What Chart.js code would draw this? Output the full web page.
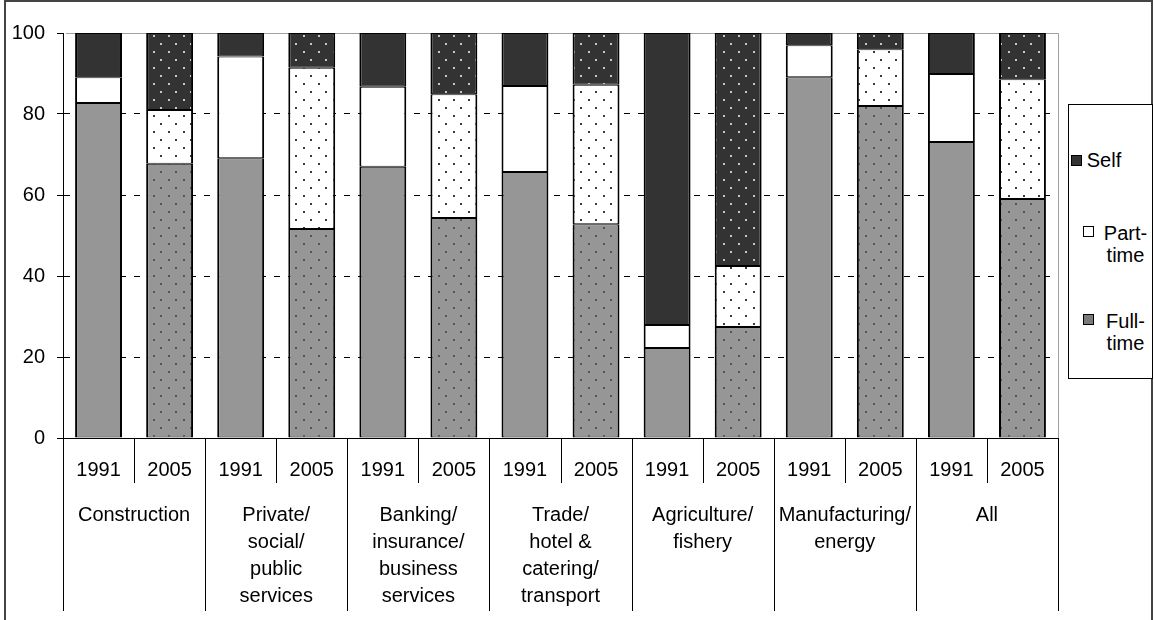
<!DOCTYPE html>
<html>
<head>
<meta charset="utf-8">
<title>Employment by sector</title>
<script src="https://cdn.jsdelivr.net/npm/chart.js@4.4.1/dist/chart.umd.min.js"></script>
<style>
  body { margin: 0; background: #fff; font-family: "Liberation Sans", Arial, sans-serif; }
  .frame { position: absolute; left: 4px; top: 0; width: 1149px; height: 640px; border: 2px solid #444; box-sizing: border-box; }
  #chart { position: absolute; left: 0; top: 0; }
  .legend { position: absolute; left: 1068px; top: 104px; width: 85px; height: 275px; border: 1px solid #000; box-sizing: border-box; background: #fff; }
  .item { position: absolute; font-size: 20px; line-height: 22px; color: #000; }
</style>
</head>
<body>
<div class="frame"></div>
<canvas id="chart" width="1154" height="620"></canvas>
<div class="legend js-legend"></div>
<script>
'use strict';
const years = ['1991', '2005', '1991', '2005', '1991', '2005', '1991', '2005', '1991', '2005', '1991', '2005', '1991', '2005'];
const sectors = [
    ['Construction'],
    ['Private/', 'social/', 'public', 'services'],
    ['Banking/', 'insurance/', 'business', 'services'],
    ['Trade/', 'hotel &', 'catering/', 'transport'],
    ['Agriculture/', 'fishery'],
    ['Manufacturing/', 'energy'],
    ['All']
];
const fullTime = [82.7, 67.7, 69.1, 51.6, 67.0, 54.3, 65.7, 52.8, 22.2, 27.4, 89.1, 82.0, 73.1, 59.0];
const partTime = [6.4, 13.3, 25.1, 39.8, 19.7, 30.6, 21.2, 34.4, 5.7, 15.1, 7.9, 14.0, 16.8, 29.6];
const selfEmployed = [10.9, 19.0, 5.8, 8.6, 13.3, 15.1, 13.1, 12.8, 72.1, 57.5, 3.0, 4.0, 10.1, 11.4];

const dotted = function (base, dot) {
    const c = document.createElement('canvas');
    c.width = 15;
    c.height = 16;
    const g = c.getContext('2d');
    g.fillStyle = base;
    g.fillRect(0, 0, 15, 16);
    g.fillStyle = dot;
    g.fillRect(3, 3, 2, 2);
    g.fillRect(10, 11, 2, 2);
    return g.createPattern(c, 'repeat');
};

// 1991 bars are plain, 2005 bars get the dotted fill
const fills = function (base, dot) {
    const pat = dotted(base, dot);
    return years.map((y) => (y === '2005' ? pat : base));
};

const separators = {
    id: 'separators',
    beforeDatasetsDraw(chart) {
        const ctx = chart.ctx, a = chart.chartArea;
        ctx.save();
        ctx.strokeStyle = '#a0a0a0';
        ctx.lineWidth = 1;
        ctx.beginPath();
        ctx.moveTo(a.left + 3, a.top + 0.5);
        ctx.lineTo(a.right + 0.5, a.top + 0.5);
        ctx.lineTo(a.right + 0.5, a.bottom);
        ctx.stroke();
        ctx.restore();
    },
    afterDraw(chart) {
        const ctx = chart.ctx, x = chart.scales.x;
        ctx.save();
        ctx.strokeStyle = '#000';
        ctx.lineWidth = 1;
        ctx.beginPath();
        for (let k = 0; k <= years.length; k++) {
            const px = Math.round(x.getPixelForValue(k - 0.5)) + 0.5;
            ctx.moveTo(px, x.top);
            ctx.lineTo(px, k % 2 === 0 ? chart.height - 9 : x.bottom);
        }
        ctx.stroke();
        ctx.restore();
    }
};

const loadGraph = function () {
    const ctx = document.getElementById('chart').getContext('2d');
    new Chart(ctx, {
        type: 'bar',
        data: {
            labels: years,
            datasets: [{
                label: 'Full-time',
                data: fullTime,
                backgroundColor: fills('#969696', '#555555')
            }, {
                label: 'Part-time',
                data: partTime,
                backgroundColor: fills('#ffffff', '#3a3a3a')
            }, {
                label: 'Self',
                data: selfEmployed,
                backgroundColor: fills('#333333', '#c8c8c8')
            }]
        },
        options: {
            responsive: false,
            animation: false,
            layout: { padding: { top: 33, right: 96, left: 0, bottom: 0 } },
            datasets: {
                bar: {
                    borderColor: '#000',
                    borderWidth: { top: 1, bottom: 1, left: 2, right: 2 },
                    borderSkipped: false,
                    barPercentage: 0.66,
                    categoryPercentage: 1
                }
            },
            plugins: { legend: { display: false }, tooltip: { enabled: false } },
            scales: {
                y: {
                    stacked: true,
                    min: 0,
                    max: 100,
                    afterFit: (s) => { s.width = 63; },
                    ticks: { stepSize: 20, color: '#000', font: { size: 20, family: 'Liberation Sans' }, padding: 12 },
                    grid: {
                        color: (c) => (c.tick.value === 0 || c.tick.value === 100 ? 'rgba(0,0,0,0)' : '#000'),
                        tickColor: '#000',
                        tickLength: 6,
                        tickBorderDash: []
                    },
                    border: { display: true, color: '#000', width: 1, dash: [6, 8] }
                },
                x: {
                    stacked: true,
                    offset: true,
                    weight: 0,
                    afterFit: (s) => { s.height = 45; },
                    grid: { display: false },
                    border: { display: true, color: '#000', width: 1 },
                    ticks: { color: '#000', font: { size: 20, family: 'Liberation Sans' }, padding: 12, autoSkip: false, maxRotation: 0 }
                },
                x2: {
                    type: 'category',
                    labels: sectors,
                    position: 'bottom',
                    offset: true,
                    weight: 1,
                    afterFit: (s) => { s.height = 137; },
                    grid: { display: false },
                    border: { display: false },
                    ticks: { color: '#000', font: { size: 20, family: 'Liberation Sans', lineHeight: 1.35 }, padding: 11, autoSkip: false, maxRotation: 0 }
                }
            }
        },
        plugins: [separators]
    });
};

const showLegend = function () {
    const legend = document.querySelector('.js-legend');
    const items = [
        { lines: ['Self'], fill: '#333333', box: [2, 50], txt: [13, 44], top: 44 },
        { lines: ['Part-', 'time'], fill: '#ffffff', box: [14, 121], txt: [29, 55], top: 117 },
        { lines: ['Full-', 'time'], fill: '#7a7a7a', box: [14, 209], txt: [29, 55], top: 205 }
    ];
    let str = '';
    for (const it of items) {
        str += `<div style="position:absolute;left:${it.box[0]}px;top:${it.box[1]}px;width:9px;height:9px;border:1px solid #000;background:${it.fill}"></div>`;
        str += `<div class="item" style="left:${it.txt[0]}px;top:${it.top}px;width:${it.txt[1]}px;text-align:center">${it.lines.join('<br>')}</div>`;
    }
    legend.innerHTML = str;
};

document.addEventListener('DOMContentLoaded', function () {
    loadGraph();
    showLegend();
});
</script>
</body>
</html>
